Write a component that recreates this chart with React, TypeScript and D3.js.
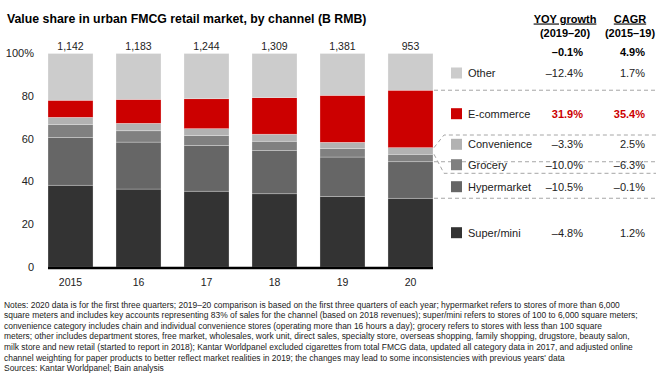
import { useEffect, useRef } from 'react';
import * as d3 from 'd3';

const years = ['2015', '16', '17', '18', '19', '20'];
const totals = ['1,142', '1,183', '1,244', '1,309', '1,381', '953'];

// share of value, % (bottom to top)
const superMini = [38.3, 36.5, 35.5, 34.3, 33.1, 32.2];
const hypermarket = [22.4, 22.0, 21.5, 20.2, 18.4, 17.1];
const grocery = [6.1, 5.3, 4.5, 4.4, 3.9, 3.5];
const convenience = [3.3, 3.5, 3.3, 3.3, 3.0, 3.1];
const ecommerce = [8.0, 11.2, 14.0, 17.1, 22.0, 26.9];
const other = [21.9, 21.5, 21.2, 20.7, 19.6, 17.2];

const channels = ['Super/mini', 'Hypermarket', 'Grocery', 'Convenience', 'E-commerce', 'Other'];
const yoyGrowth = ['–4.8%', '–10.5%', '–10.0%', '–3.3%', '31.9%', '–12.4%'];
const cagr = ['1.2%', '–0.1%', '–6.3%', '2.5%', '35.4%', '1.7%'];
const totalYoy = '–0.1%';
const totalCagr = '4.9%';

const yTicks = [0, 20, 40, 60, 80, 100];

const notes = [
  'Notes: 2020 data is for the first three quarters; 2019–20 comparison is based on the first three quarters of each year; hypermarket refers to stores of more than 6,000',
  'square meters and includes key accounts representing 83% of sales for the channel (based on 2018 revenues); super/mini refers to stores of 100 to 6,000 square meters;',
  'convenience category includes chain and individual convenience stores (operating more than 16 hours a day); grocery refers to stores with less than 100 square',
  'meters; other includes department stores, free market, wholesales, work unit, direct sales, specialty store, overseas shopping, family shopping, drugstore, beauty salon,',
  'milk store and new retail (started to report in 2018); Kantar Worldpanel excluded cigarettes from total FMCG data, updated all category data in 2017, and adjusted online',
  "channel weighting for paper products to better reflect market realities in 2019; the changes may lead to some inconsistencies with previous years' data",
  'Sources: Kantar Worldpanel; Bain analysis',
];

const W = 666;
const H = 384;
const FONT = '"Liberation Sans", Arial, sans-serif';

export default function App() {
  const svgRef = useRef<SVGSVGElement>(null);

  useEffect(() => {
    if (!svgRef.current) return;
    const svg = d3.select(svgRef.current);
    svg.selectAll('*').remove();

    const colors = d3.scaleOrdinal<string, string>()
      .domain(channels)
      .range(['#333333', '#666666', '#808080', '#b2b2b2', '#cc0000', '#cccccc']);

    const series = [superMini, hypermarket, grocery, convenience, ecommerce, other];
    const table = years.map((yr, i) => {
      const row: Record<string, any> = { year: yr };
      channels.forEach((c, k) => { row[c] = series[k][i]; });
      return row;
    });
    const stacked = d3.stack<any>().keys(channels)(table);

    const x = d3.scaleBand().domain(years).range([48, 433]).paddingInner(0.338).paddingOuter(0);
    const y = d3.scaleLinear().domain([0, 100]).range([267, 53.5]);

    // title
    svg.append('text')
      .attr('x', 7).attr('y', 22.5)
      .attr('font-weight', 'bold').attr('font-size', 12.3)
      .attr('fill', '#000')
      .text('Value share in urban FMCG retail market, by channel (B RMB)');

    // y labels
    svg.append('g').selectAll('text').data(yTicks).enter().append('text')
      .attr('x', 34).attr('y', d => y(d))
      .attr('dy', '0.35em')
      .attr('text-anchor', 'end')
      .attr('font-size', 11).attr('fill', '#222')
      .text(d => (d === 100 ? '100%' : String(d)));

    // bars
    svg.append('g').selectAll('g').data(stacked).enter().append('g')
      .attr('fill', d => colors(d.key))
      .selectAll('rect').data(d => d).enter().append('rect')
      .attr('x', d => x(d.data.year)!)
      .attr('width', x.bandwidth())
      .attr('y', d => y(d[1]))
      .attr('height', d => y(d[0]) - y(d[1]))
      .attr('stroke', 'rgba(255,255,255,0.45)')
      .attr('stroke-width', 0.6);

    // baseline
    svg.append('line')
      .attr('x1', 48).attr('x2', x('20')! + x.bandwidth())
      .attr('y1', y(0) + 1).attr('y2', y(0) + 1)
      .attr('stroke', '#000').attr('stroke-width', 2.4);

    // totals
    svg.append('g').selectAll('text').data(years).enter().append('text')
      .attr('x', d => x(d)! + x.bandwidth() / 2)
      .attr('y', 50)
      .attr('text-anchor', 'middle')
      .attr('font-size', 10.5).attr('fill', '#222')
      .text((_, i) => totals[i]);

    // x labels
    svg.append('g').selectAll('text').data(years).enter().append('text')
      .attr('x', d => x(d)! + x.bandwidth() / 2)
      .attr('y', 286)
      .attr('text-anchor', 'middle')
      .attr('font-size', 10.5).attr('fill', '#222')
      .text(d => d);

    // connectors from last bar to legend separators
    const last = years.length - 1;
    const barRight = x(years[last])! + x.bandwidth();
    const bounds = stacked.slice(0, -1).map(s => y(s[last][1]));
    // legend separator offsets where the legend row spacing differs from the bar
    const sepY = [bounds[0], bounds[1], 173.3, 135, bounds[4]];
    const dashG = svg.append('g')
      .attr('fill', 'none').attr('stroke', '#a6a6a6')
      .attr('stroke-width', 1).attr('stroke-dasharray', '4,3');
    bounds.forEach((b, i) => {
      const t = sepY[i];
      const pts: [number, number][] = Math.abs(t - b) < 0.5
        ? [[barRight + 1, b], [656, b]]
        : [[barRight + 1, b], [barRight + 11, t], [656, t]];
      dashG.append('path').attr('d', d3.line()(pts));
    });

    // legend
    const legendY = [232.7, 186.7, 164.7, 144.3, 113.7, 73];
    const lg = svg.append('g').selectAll('g').data(channels).enter().append('g')
      .attr('transform', (_, i) => `translate(0,${legendY[i]})`);
    lg.append('rect')
      .attr('x', 451).attr('y', -5.5).attr('width', 11).attr('height', 11)
      .attr('fill', d => colors(d));
    lg.append('text')
      .attr('x', 468).attr('dy', '0.35em')
      .attr('font-size', 11).attr('fill', '#222')
      .text(d => d);
    lg.append('text')
      .attr('x', 583).attr('dy', '0.35em').attr('text-anchor', 'end')
      .attr('font-size', 11)
      .attr('fill', d => (d === 'E-commerce' ? '#cc0000' : '#222'))
      .attr('font-weight', d => (d === 'E-commerce' ? 'bold' : 'normal'))
      .text((_, i) => yoyGrowth[i]);
    lg.append('text')
      .attr('x', 645).attr('dy', '0.35em').attr('text-anchor', 'end')
      .attr('font-size', 11)
      .attr('fill', d => (d === 'E-commerce' ? '#cc0000' : '#222'))
      .attr('font-weight', d => (d === 'E-commerce' ? 'bold' : 'normal'))
      .text((_, i) => cagr[i]);

    // column headers
    const hdr = [
      { cx: 565, t1: 'YOY growth', t2: '(2019–20)' },
      { cx: 630, t1: 'CAGR', t2: '(2015–19)' },
    ];
    hdr.forEach(h => {
      svg.append('text')
        .attr('x', h.cx).attr('y', 22.5).attr('text-anchor', 'middle')
        .attr('font-size', 11).attr('font-weight', 'bold').attr('fill', '#000')
        .attr('text-decoration', 'underline')
        .text(h.t1);
      svg.append('text')
        .attr('x', h.cx).attr('y', 36.5).attr('text-anchor', 'middle')
        .attr('font-size', 11).attr('font-weight', 'bold').attr('fill', '#000')
        .text(h.t2);
    });
    svg.append('text')
      .attr('x', 583).attr('y', 51.7).attr('dy', '0.35em').attr('text-anchor', 'end')
      .attr('font-size', 11).attr('font-weight', 'bold').attr('fill', '#000')
      .text(totalYoy);
    svg.append('text')
      .attr('x', 645).attr('y', 51.7).attr('dy', '0.35em').attr('text-anchor', 'end')
      .attr('font-size', 11).attr('font-weight', 'bold').attr('fill', '#000')
      .text(totalCagr);

    // notes
    svg.append('g').selectAll('text').data(notes).enter().append('text')
      .attr('x', 4).attr('y', (_, i) => 307.5 + i * 10.6)
      .attr('font-size', 8.45).attr('fill', '#222')
      .text(d => d);
  }, []);

  return (
    <svg
      ref={svgRef}
      width={W}
      height={H}
      style={{ position: 'absolute', left: 0, top: 0, background: '#fff', fontFamily: FONT }}
    />
  );
}
